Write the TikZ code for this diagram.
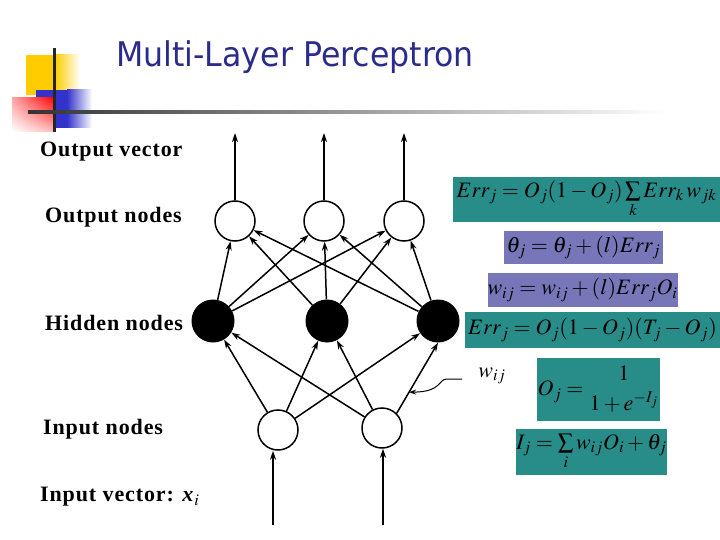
\documentclass[tikz,border=0pt]{standalone}
\usepackage{mathptmx}
\usepackage[no-math]{fontspec}
\setmainfont{Liberation Serif}
\newfontfamily\titlefont[FakeStretch=0.93]{DejaVu Sans}
\newfontfamily\labfont[LetterSpace=4]{Liberation Serif}
\usetikzlibrary{arrows.meta,positioning,shadings}
\definecolor{eqteal}{RGB}{40,140,137}
\definecolor{eqlav}{RGB}{118,118,184}
\definecolor{titleblue}{RGB}{43,43,140}
\definecolor{logoyellow}{RGB}{255,204,0}
\definecolor{logoblue}{RGB}{51,51,204}

\begin{document}
\begin{tikzpicture}[x=1pt,y=-1pt,
  lab/.style={anchor=west,inner sep=0pt,font=\labfont\fontsize{22}{24}\selectfont\bfseries},
  onode/.style={circle,draw,line width=1.5pt,fill=white,minimum size=40pt,inner sep=0pt},
  hnode/.style={circle,fill=black,minimum size=43pt,inner sep=0pt},
  arr/.style={-{Stealth[length=9pt,width=6pt]},line width=1.5pt},
  eq/.style={inner sep=0pt,font=\fontsize{22}{26}\selectfont},
  eqt/.style={eq,fill=eqteal},
  eql/.style={eq,fill=eqlav}]
\useasboundingbox (0,0) rectangle (720,540);
\fill[logoyellow] (26,55) rectangle (55,95);
\shade[left color=logoyellow,right color=white] (55,55) rectangle (80,95);
\fill[logoblue] (36,90) rectangle (67,128);
\shade[left color=logoblue,right color=white] (67,90) rectangle (92,128);
\shade[upper right=red,upper left=red!35,lower right=red!25,lower left=white] (12,98) rectangle (55,132);
\draw[line width=3pt,black!85] (54,48) -- (54,132);
\shade[left color=black!80,right color=white] (28,110.5) rectangle (665,113.5);
\node[anchor=west,inner sep=0pt,text=titleblue,font=\titlefont\fontsize{34}{38}\selectfont] (title) at (116,57) {Multi-Layer Perceptron};
\node[lab] (outvec) at (40,152) {Output vector};
\node[lab] (outn) at (45,217) {Output nodes};
\node[lab] (hidn) at (45,323) {Hidden nodes};
\node[lab] (inn) at (43,429) {Input nodes};
\node[lab] (invec) at (40,497) {Input vector: \textit{x}$_i$};
\node[onode] (o1) at (235,221) {};
\node[onode] (o2) at (324,221) {};
\node[onode] (o3) at (404,221) {};
\node[hnode] (h1) at (213,321) {};
\node[hnode] (h2) at (327,321) {};
\node[hnode] (h3) at (438,321) {};
\node[onode] (i1) at (278,430) {};
\node[onode] (i2) at (382,428) {};
\coordinate (ov1) at (235,133);
\coordinate (ov2) at (324,133);
\coordinate (ov3) at (404,133);
\coordinate (iv1) at (273,525);
\coordinate (iv2) at (383,525);
\foreach \o in {1,2,3}
  \draw[arr] (o\o) -- (ov\o);
\foreach \h in {1,2,3}
  \foreach \o in {1,2,3}
    \draw[arr] (h\h) -- (o\o);
\foreach \i/\h in {1/1,1/2,1/3,2/1,2/2}
  \draw[arr] (i\i) -- (h\h);
\draw[arr] (i2.north east) -- coordinate[pos=0.3] (wpt) (h3.south);
\foreach \i in {1,2}
  \draw[arr] (iv\i) -- (iv\i|-i\i.south);
\node[font=\fontsize{22}{24}\selectfont] (wl) at (492,376) {$w_{ij}$};
\coordinate (wtail) at (462,379);
\draw[-{Stealth[length=7pt,width=5pt]},line width=1pt] (wtail) -- (447,379) .. controls (438,379) and (442,392) .. (wpt);
\node[eqt,minimum width=267pt,minimum height=45pt] (errk) at (586.5,199.5) {$Err_j=O_j(1-O_j)\sum\limits_k Err_k\,w_{jk}$};
\node[eql,minimum width=159pt,minimum height=33pt] (theta) at (583.5,247.5) {$\theta_j=\theta_j+(l)Err_j$};
\node[eql,minimum width=189pt,minimum height=34pt] (wupd) at (582.5,290) {$w_{ij}=w_{ij}+(l)Err_jO_i$};
\node[eqt,minimum width=255pt,minimum height=36pt] (errt) at (592.5,330) {$Err_j=O_j(1-O_j)(T_j-O_j)$};
\node[eqt,minimum width=123pt,minimum height=63pt] (sig) at (598.5,389.5) {$O_j=\displaystyle{1\atop 1+e^{-I_j}}$};
\node[eqt,minimum width=145pt,minimum height=46pt] (net) at (591.5,452) {$I_j=\sum\limits_i w_{ij}O_i+\theta_j$};
\end{tikzpicture}
\end{document}
